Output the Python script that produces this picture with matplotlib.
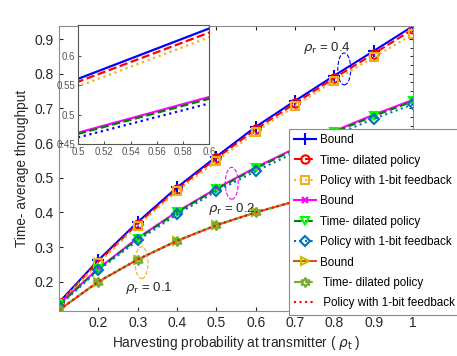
import numpy as np
import matplotlib
matplotlib.use("Agg")
import matplotlib.pyplot as plt
from matplotlib.patches import Ellipse

plt.rcParams['font.family'] = ['Liberation Sans', 'DejaVu Sans']
plt.rcParams['mathtext.fontset'] = 'dejavusans'

rho_t = [0.1, 0.2, 0.3, 0.4, 0.5, 0.6, 0.7, 0.8, 0.9, 1.0]

# rho_r = 0.4
bound_04 = [0.140, 0.262, 0.372, 0.472, 0.561, 0.647, 0.722, 0.795, 0.866, 0.938]
td_04    = [0.138, 0.258, 0.367, 0.467, 0.556, 0.640, 0.715, 0.788, 0.858, 0.929]
fb_04    = [0.135, 0.254, 0.362, 0.461, 0.548, 0.632, 0.707, 0.780, 0.848, 0.914]
# rho_r = 0.2
bound_02 = [0.135, 0.238, 0.326, 0.402, 0.469, 0.530, 0.585, 0.635, 0.682, 0.725]
td_02    = [0.133, 0.236, 0.324, 0.400, 0.467, 0.527, 0.582, 0.632, 0.678, 0.721]
fb_02    = [0.130, 0.233, 0.319, 0.394, 0.461, 0.519, 0.573, 0.623, 0.670, 0.712]
# rho_r = 0.1
bound_01 = [0.118, 0.200, 0.264, 0.318, 0.363, 0.400, 0.432, 0.460, 0.485, 0.507]
td_01    = [0.118, 0.200, 0.264, 0.318, 0.363, 0.400, 0.432, 0.460, 0.485, 0.507]
fb_01    = [0.118, 0.200, 0.264, 0.318, 0.363, 0.400, 0.432, 0.460, 0.485, 0.507]

labels = ['Bound', 'Time- dilated policy', 'Policy with 1-bit feedback']
xticks = [0.2, 0.3, 0.4, 0.5, 0.6, 0.7, 0.8, 0.9, 1.0]
xticklabels = ['0.2', '0.3', '0.4', '0.5', '0.6', '0.7', '0.8', '0.9', '1']
yticks = [0.2, 0.3, 0.4, 0.5, 0.6, 0.7, 0.8, 0.9]

fig = plt.figure(figsize=(4.57, 3.56), dpi=100)
ax = fig.add_axes([0.129, 0.126, 0.775, 0.801])

ms = 6
lw = 1.5
ax.plot(rho_t, bound_04, '-', color='#0000FF', marker='+', ms=ms+2, mew=1.5, lw=lw, label=labels[0])
ax.plot(rho_t, td_04, '--', color='#FF0000', marker='o', ms=ms, mfc='none', mew=1.5, lw=lw, label=labels[1])
ax.plot(rho_t, fb_04, ':', color='#EDB120', marker='s', ms=ms, mfc='none', mew=1.5, lw=lw, label=labels[2])
ax.plot(rho_t, bound_02, '-', color='#FF00FF', marker='x', ms=ms-1, mew=1.5, lw=lw, label=labels[0])
ax.plot(rho_t, td_02, '--', color='#008000', marker='v', ms=ms, mfc='none', mec='#00FF00', mew=1.5, lw=lw, label=labels[1])
ax.plot(rho_t, fb_02, ':', color='#0072BD', marker='D', ms=ms-0.5, mfc='none', mew=1.5, lw=lw, label=labels[2])
ax.plot(rho_t, bound_01, '-', color='#D95319', marker='>', ms=ms, mfc='none', mec='#BFBF00', mew=1.5, lw=lw, label=labels[0])
ax.plot(rho_t, td_01, '--', color='#77AC30', marker=(6, 1, 0), ms=ms+1, mfc='none', mew=1.5, lw=lw, label=' ' + labels[1])
ax.plot(rho_t, fb_01, ':', color='#FF0000', lw=lw, label=' ' + labels[2])

ax.set_xlim(0.1, 1.0)
ax.set_ylim(0.115, 0.938)
ax.set_xticks(xticks)
ax.set_xticklabels(xticklabels)
ax.set_yticks(yticks)
ax.tick_params(direction='in', top=True, right=True, labelsize=10, colors='#262626', length=3)
ax.set_yticks(np.arange(0.125, 0.94, 0.025), minor=True)
ax.tick_params(which='minor', direction='in', left=False, right=True, length=2)
for s in ax.spines.values():
    s.set_color('#8c8c8c')
ax.set_xlabel(r'Harvesting probability at transmitter ( $\rho_{\rm t}$ )', fontsize=9.8, color='#262626', labelpad=3)
ax.set_ylabel('Time- average throughput', fontsize=9.8, color='#262626', labelpad=4)

# ellipses
ax.add_patch(Ellipse((0.825, 0.814), 0.033, 0.092, fill=False, ls='--', color='#0000FF', lw=0.8))
ax.add_patch(Ellipse((0.539, 0.484), 0.033, 0.092, fill=False, ls='--', color='#FF00FF', lw=0.8))
ax.add_patch(Ellipse((0.310, 0.255), 0.033, 0.092, fill=False, ls='--', color='#EDB120', lw=0.8))

ax.text(0.72, 0.875, r'$\rho_{\rm r}$ = 0.4', fontsize=9.5, color='#262626', va='center')
ax.text(0.478, 0.410, r'$\rho_{\rm r}$ = 0.2', fontsize=9.5, color='#262626', va='center')
ax.text(0.268, 0.183, r'$\rho_{\rm r}$ = 0.1', fontsize=9.5, color='#262626', va='center')

leg = fig.legend(*ax.get_legend_handles_labels(), loc='upper left',
                 bbox_to_anchor=(0.632, 0.638),
                 fontsize=8.4, handlelength=1.9, handletextpad=0.3,
                 borderaxespad=0, labelspacing=0.72, fancybox=False,
                 framealpha=1, edgecolor='#8c8c8c', borderpad=0.45)
leg.get_frame().set_linewidth(0.8)

# inset
axi = fig.add_axes([0.171, 0.596, 0.287, 0.334])
axi.plot(rho_t, bound_04, '-', color='#0000FF', lw=1.6)
axi.plot(rho_t, td_04, '--', color='#FF0000', lw=1.6)
axi.plot(rho_t, fb_04, ':', color='#EDB120', lw=1.6)
axi.plot(rho_t, bound_02, '-', color='#FF00FF', lw=1.6)
axi.plot(rho_t, td_02, '--', color='#008000', lw=1.6)
axi.plot(rho_t, fb_02, ':', color='#0000FF', lw=1.6)
axi.set_xlim(0.5, 0.6)
axi.set_ylim(0.45, 0.653)
axi.set_xticks([0.5, 0.52, 0.54, 0.56, 0.58, 0.6])
axi.set_xticklabels(['0.5', '0.52', '0.54', '0.56', '0.58', '0.6'])
axi.set_yticks([0.45, 0.5, 0.55, 0.6])
axi.set_yticklabels(['0.45', '0.5', '0.55', '0.6'])
axi.tick_params(direction='in', labelsize=7, colors='#555555', length=2, pad=2)
for s in axi.spines.values():
    s.set_color('#555555')

fig.savefig('out.png', dpi=100)
